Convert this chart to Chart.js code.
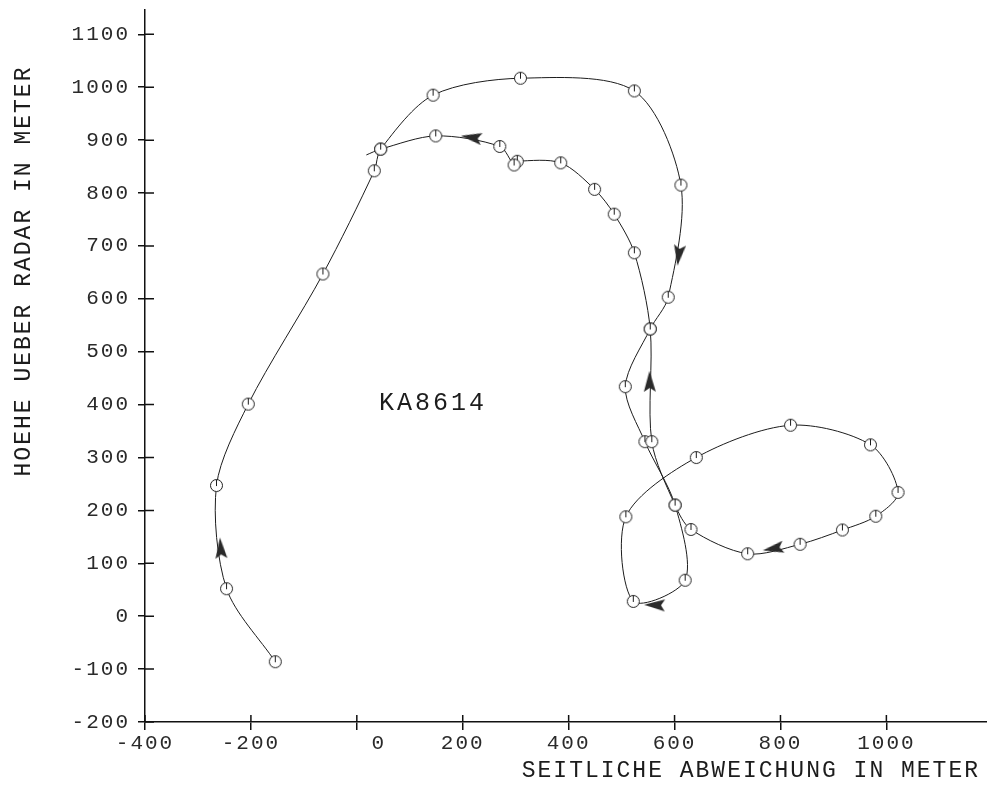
<!DOCTYPE html>
<html>
<head>
<meta charset="utf-8">
<script src="https://cdn.jsdelivr.net/npm/chart.js@4"></script>
<style>
  html, body { margin: 0; padding: 0; background: #fff; }
  canvas { display: block; }
</style>
</head>
<body>
<canvas id="bahn" width="987" height="789"></canvas>
<script>
// Flugbahn KA8614, Messpunkte in Reihenfolge (seitliche Abweichung / Hoehe in m)
const bahnX = [-154, -246, -265, -205, -64, 33, 45, 144, 309, 524, 612, 588, 554, 507, 544, 601, 620, 522,
  508, 641, 819, 970, 1022, 980, 917, 837, 738, 631, 601, 557, 554, 524, 486, 449, 385, 303, 297, 270, 149, 45, 18];
const bahnY = [-86, 52, 247, 401, 647, 842, 883, 985, 1017, 993, 815, 603, 543, 434, 330, 210, 68, 28,
  188, 300, 361, 324, 234, 189, 163, 136, 118, 164, 210, 330, 543, 687, 760, 807, 857, 860, 853, 888, 908, 883, 872];

// Richtungspfeile auf der Bahn (Position, Richtung in Grad im Uhrzeigersinn ab "oben")
const pfeilX = [-257, 608, 553, 563, 787, 217];
const pfeilY = [128, 683, 443, 21, 128, 905];
const pfeilRichtung = [-4, 187, -1, -88, -100, -81];

const xTicks = [-400, -200, 0, 200, 400, 600, 800, 1000];
const xTickText = ['-400', '-200', '   0', '200', '400', '600', '800', '1000'];
const yTicks = [-200, -100, 0, 100, 200, 300, 400, 500, 600, 700, 800, 900, 1000, 1100];
const yTickText = ['-200', '-100', '0', '100', '200', '300', '400', '500', '600', '700', '800', '900', '1000', '1100'];

const xTitel = 'SEITLICHE ABWEICHUNG IN METER';
const yTitel = 'HOEHE UEBER RADAR IN METER';
const kennung = 'KA8614';
const kennungPos = [42, 403];

const INK = '#1c1c1c';

// Messpunkt-Symbol: Kreis mit kurzem Strich
function kreisSymbol() {
  const c = document.createElement('canvas');
  c.width = 15; c.height = 15;
  const g = c.getContext('2d');
  g.beginPath();
  g.arc(7.5, 7.5, 6, 0, Math.PI * 2);
  g.fillStyle = '#fff';
  g.fill();
  g.lineWidth = 1;
  g.strokeStyle = INK;
  g.stroke();
  g.beginPath();
  g.moveTo(7.5, 1.5);
  g.lineTo(7.5, 8);
  g.stroke();
  return c;
}

// Pfeilspitze, zeigt nach oben
function pfeilSymbol() {
  const c = document.createElement('canvas');
  c.width = 14; c.height = 24;
  const g = c.getContext('2d');
  g.beginPath();
  g.moveTo(7, 1);
  g.lineTo(13, 22);
  g.lineTo(7, 18);
  g.lineTo(1, 22);
  g.closePath();
  g.fillStyle = '#2a2a2a';
  g.fill();
  return c;
}

const punkte = bahnX.map((x, i) => ({ x: x, y: bahnY[i] }));
const pfeile = pfeilX.map((x, i) => ({ x: x, y: pfeilY[i] }));
const kreis = kreisSymbol();
const pfeil = pfeilSymbol();

// Ticks auf beiden Seiten der Achse + Beschriftungen
const achsenPlugin = {
  id: 'achsen',
  beforeDraw(chart) {
    chart.ctx.letterSpacing = '2px';
  },
  afterDraw(chart) {
    const ctx = chart.ctx;
    const xs = chart.scales.x, ys = chart.scales.y;
    const a = chart.chartArea;
    ctx.save();
    ctx.strokeStyle = '#111';
    ctx.lineWidth = 1.5;
    ctx.beginPath();
    xTicks.forEach(v => {
      const px = xs.getPixelForValue(v);
      ctx.moveTo(px, a.bottom);
      ctx.lineTo(px, a.bottom - 7);
    });
    yTicks.forEach(v => {
      const py = ys.getPixelForValue(v);
      ctx.moveTo(a.left, py);
      ctx.lineTo(a.left + 9, py);
    });
    ctx.stroke();

    ctx.fillStyle = INK;
    ctx.font = '23px "Liberation Mono"';
    ctx.letterSpacing = '2px';
    ctx.textBaseline = 'middle';
    ctx.textAlign = 'right';
    ctx.fillText(xTitel, 980, 771);

    ctx.save();
    ctx.translate(24, 271);
    ctx.rotate(-Math.PI / 2);
    ctx.textAlign = 'center';
    ctx.fillText(yTitel, 0, 0);
    ctx.restore();

    ctx.font = '25px "Liberation Mono"';
    ctx.letterSpacing = '3px';
    ctx.textAlign = 'left';
    ctx.fillText(kennung, xs.getPixelForValue(kennungPos[0]), ys.getPixelForValue(kennungPos[1]));
    ctx.restore();
  }
};

const tickFont = { family: '"Liberation Mono"', size: 21 };

// keine automatische Randzugabe fuer Beschriftungen
function ohneRand(s) {
  s.paddingLeft = 0; s.paddingRight = 0;
  s.paddingTop = 0; s.paddingBottom = 0;
}

new Chart(document.getElementById('bahn'), {
  type: 'scatter',
  data: {
    datasets: [
      {
        data: pfeile,
        order: 0,
        pointStyle: pfeil,
        rotation: pfeilRichtung,
        pointRadius: 6,
        showLine: false
      },
      {
        data: punkte,
        order: 1,
        showLine: true,
        tension: 0.3,
        borderColor: INK,
        borderWidth: 1,
        pointStyle: kreis,
        pointRadius: ctx => ctx.dataIndex === bahnX.length - 1 ? 0 : 6
      }
    ]
  },
  options: {
    responsive: false,
    animation: false,
    layout: { autoPadding: false, padding: { top: 10, left: 0, right: 0, bottom: 0 } },
    plugins: { legend: { display: false }, tooltip: { enabled: false } },
    scales: {
      x: {
        type: 'linear',
        min: -400,
        max: 1190,
        afterBuildTicks: s => { s.ticks = xTicks.map(v => ({ value: v })); },
        afterFit: s => { s.height = 67; ohneRand(s); },
        ticks: {
          callback: v => xTickText[xTicks.indexOf(v)],
          font: tickFont,
          color: '#2a2a2a',
          padding: 1,
          maxRotation: 0,
          autoSkip: false
        },
        grid: { drawOnChartArea: false, tickLength: 8, color: '#111', lineWidth: 1.5 },
        border: { color: '#111', width: 1.5 }
      },
      y: {
        type: 'linear',
        min: -200,
        max: 1146,
        afterBuildTicks: s => { s.ticks = yTicks.map(v => ({ value: v })); },
        afterFit: s => { s.width = 145; ohneRand(s); },
        ticks: {
          callback: v => yTickText[yTicks.indexOf(v)],
          font: tickFont,
          color: '#2a2a2a',
          padding: 8,
          autoSkip: false
        },
        grid: { drawOnChartArea: false, tickLength: 7, color: '#111', lineWidth: 1.5 },
        border: { color: '#111', width: 1.5 }
      }
    }
  },
  plugins: [achsenPlugin]
});
</script>
</body>
</html>
